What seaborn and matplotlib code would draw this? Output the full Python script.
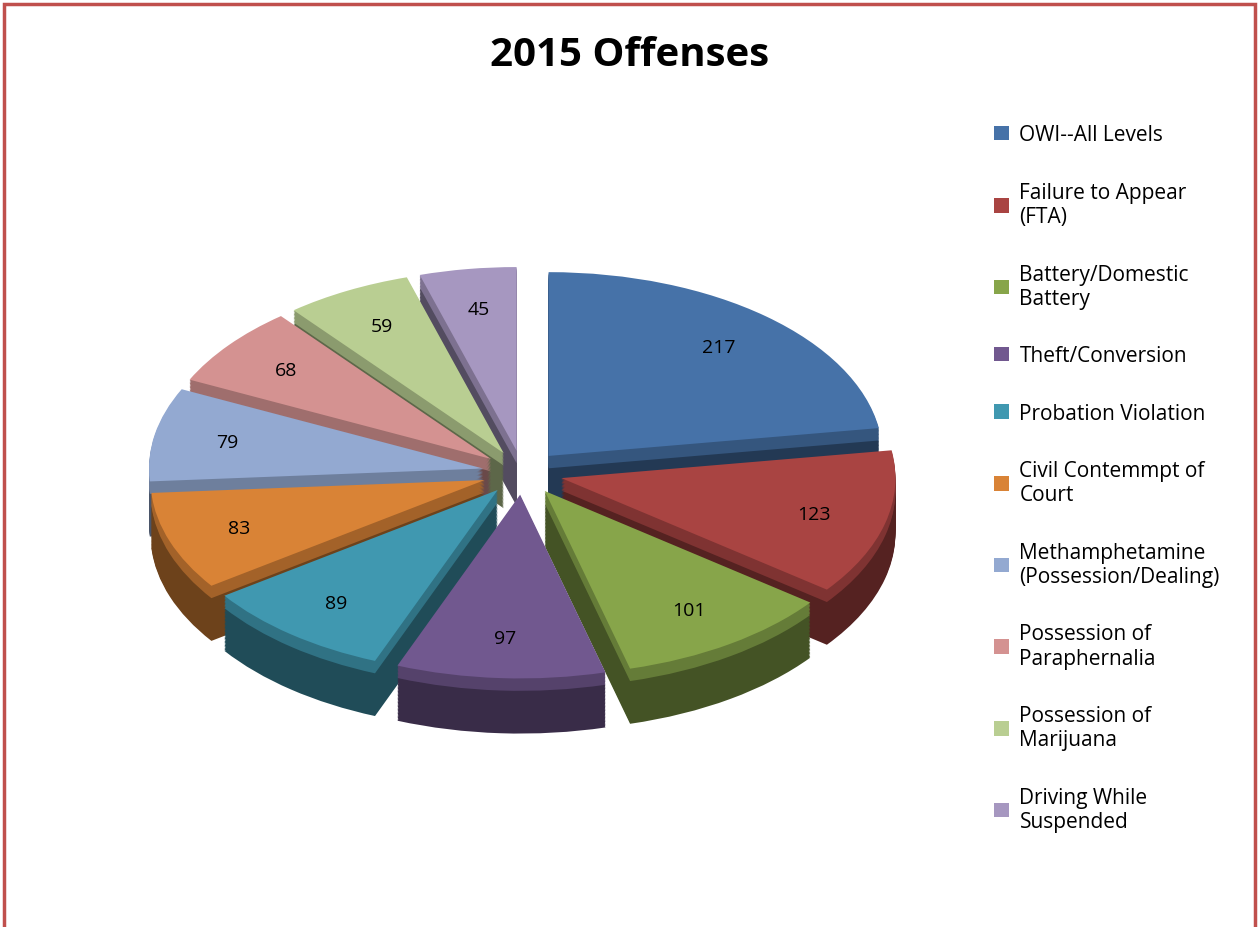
import matplotlib.pyplot as plt
import matplotlib.colors as mcolors
import seaborn as sns

sns.set_theme(style="white")
plt.rcParams['font.family'] = ['Open Sans', 'DejaVu Sans']

# data
offenses = ["OWI--All Levels", "Failure to Appear\n(FTA)", "Battery/Domestic\nBattery",
            "Theft/Conversion", "Probation Violation", "Civil Contemmpt of\nCourt",
            "Methamphetamine\n(Possession/Dealing)", "Possession of\nParaphernalia",
            "Possession of\nMarijuana", "Driving While\nSuspended"]
counts = [217, 123, 101, 97, 89, 83, 79, 68, 59, 45]
colors = ["#4672a8", "#a94442", "#87a54a", "#71588f", "#4098b0",
          "#d98336", "#93a9d1", "#d49291", "#b9ce92", "#a697c0"]

explode = [0.12] * len(counts)
dark = [tuple(c * 0.5 for c in mcolors.to_rgb(col)) for col in colors]
side = [tuple(c * 0.75 for c in mcolors.to_rgb(col)) for col in colors]

fig = plt.figure(figsize=(12.59, 9.28), dpi=100)
ax = fig.add_axes([0.07, 0.04, 0.69, 0.82])

depth = 0.3
n_layers = 40
for i in range(n_layers, 0, -1):
    d = depth * i / n_layers
    ax.pie(counts, explode=explode, startangle=90, counterclock=False,
           colors=side if i < n_layers * 0.25 else dark, center=(0, -d),
           wedgeprops=dict(linewidth=0))

wedges, texts, autotexts = ax.pie(
    counts, explode=explode, startangle=90, counterclock=False, colors=colors,
    autopct=lambda p: f"{p * sum(counts) / 100:.0f}", pctdistance=0.78,
    textprops=dict(fontsize=14, color="black"), wedgeprops=dict(linewidth=0))

ax.set_xlim(-1.3, 1.3)
ax.set_ylim(-1.6, 1.2)
ax.set_aspect(0.55)
ax.axis("off")

fig.text(0.5, 0.94, "2015 Offenses", ha="center", va="center",
         fontsize=29, fontweight="bold", color="black")

leg = fig.legend(wedges, offenses, loc="upper left", bbox_to_anchor=(0.775, 0.885),
                 frameon=False, fontsize=15, handlelength=0.7, handleheight=0.7,
                 labelspacing=1.75, handletextpad=0.5, labelcolor="black")

# red border like the source document
fig.patches.append(plt.Rectangle((0.003, -0.01), 0.994, 1.005, transform=fig.transFigure,
                                 fill=False, edgecolor="#c0504d", linewidth=2.5))

plt.savefig("out.png", dpi=100)
plt.close()
